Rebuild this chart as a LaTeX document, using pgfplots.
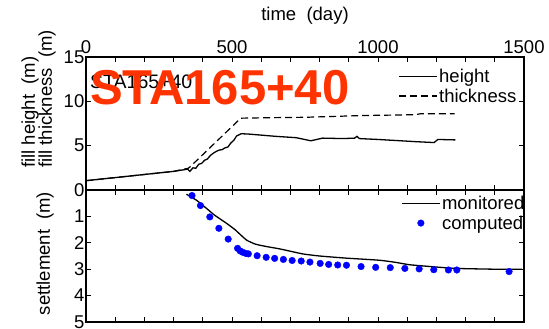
\documentclass[border=0pt]{standalone}
\usepackage{pgfplots}
\pgfplotsset{compat=1.18}
\usepackage{fontspec}
\setmainfont{Liberation Sans}
\definecolor{stared}{RGB}{255,51,0}
\pgfplotsset{
  legend image code/.code={\draw[#1] (0pt,0pt) -- (38pt,0pt);},
  dotlegend/.style={legend image code/.code={\path[draw=none, fill=none] (0pt,0pt) -- (38pt,0pt); \path[##1, draw=none] plot[only marks, mark=*] coordinates {(19pt,0pt)};}},
}
\begin{document}
\begin{tikzpicture}[font=\fontsize{18.5}{21}\selectfont]
\pgfplotsset{
  every axis/.append style={
    scale only axis, width=438pt,
    xmin=0, xmax=1500,
    xtick={0,500,1000,1500}, minor xtick={100,200,300,400,600,700,800,900,1100,1200,1300,1400},
    tick align=inside, tick pos=both,
    major tick length=5pt, minor tick length=5pt,
    every tick/.style={black, line width=0.8pt},
    axis line style={line width=1.2pt},
    /pgf/number format/assume math mode=true,
    /pgf/number format/1000 sep={},
    ticklabel style={font=\fontsize{18.5}{21}\selectfont},
    yticklabel style={inner sep=1.5pt},
    legend cell align=left,
    legend style={draw=none, fill=none, inner sep=0pt, row sep=2pt,
      font=\fontsize{18.5}{21}\selectfont, nodes={inner sep=1.5pt}},
  },
}
\begin{axis}[name=top, height=133pt, ymin=0, ymax=15,
  ytick={0,5,10,15}, yticklabel pos=left,
  xticklabel pos=upper,
  legend style={at={(axis description cs:1,1)}, anchor=north east, xshift=-6pt, yshift=-10pt},
]
\addplot[black, line width=1.3pt] coordinates {
(0,1.05) (100,1.4) (200,1.75) (300,2.1) (348,2.35) (356,2.1) (366,2.5) (376,2.45)
(386,2.9) (396,3.0) (406,3.35) (416,3.5) (426,3.9) (436,4.15) (446,4.35) (456,4.5)
(466,4.55) (476,4.75) (486,4.85) (496,5.3) (506,5.6) (516,6.1) (532,6.35) (560,6.3)
(650,6.05) (720,5.9) (770,5.55) (810,5.85) (880,5.8) (920,5.85) (928,6.05) (936,5.8)
(1000,5.7) (1130,5.45) (1192,5.35) (1205,5.7) (1265,5.65)};
\addlegendentry{height}
\addplot[black, line width=1.2pt, dash pattern=on 7pt off 4pt] coordinates {
(0,1.05) (300,2.1) (350,2.45) (356,2.6) (530,8.1) (620,8.15) (750,8.2) (850,8.3)
(950,8.4) (1050,8.45) (1130,8.5) (1145,8.6) (1262,8.6)};
\addlegendentry{thickness}
\end{axis}
\begin{axis}[name=bot, at={(top.south west)}, anchor=north west,
  height=132pt, ymin=0, ymax=5, y dir=reverse,
  ytick={0,1,2,3,4,5}, yticklabels={,1,2,3,4,5}, yticklabel pos=left,
  xticklabels={},
  legend style={at={(axis description cs:1,1)}, anchor=north east, xshift=2pt, yshift=-4pt},
]
\addplot[black, line width=1.3pt, smooth, tension=0.3] coordinates {
(344,0.16) (380,0.4) (412,0.69) (440,0.95) (481,1.26) (510,1.5) (549,1.89) (580,2.05)
(617,2.14) (663,2.23) (742,2.42) (800,2.5) (890,2.58) (1004,2.66) (1060,2.74)
(1107,2.83) (1180,2.9) (1266,2.97) (1400,3.0) (1493,3.0)};
\addlegendentry{monitored}
\addplot[only marks, mark=*, mark size=3.3pt, color=blue, dotlegend]
coordinates {
(363,0.21) (392,0.59) (424,1.02) (455,1.45) (487,1.86) (519,2.21) (528,2.31) (537,2.36)
(547,2.40) (556,2.42) (586,2.49) (617,2.55) (646,2.59) (676,2.63) (706,2.67) (737,2.69)
(767,2.73) (802,2.78) (831,2.82) (862,2.84) (892,2.85) (942,2.90) (992,2.93) (1042,2.94)
(1092,2.97) (1141,2.99) (1191,3.02) (1241,3.03) (1270,3.03) (1449,3.09)};
\addlegendentry{computed}
\end{axis}
\node at ([yshift=41pt]top.north) {time~~(day)};
\node[rotate=90, anchor=west, inner sep=0pt] at ([xshift=-56pt, yshift=22pt]top.south west) {fill height~~(m)};
\node[rotate=90, anchor=west, inner sep=0pt] at ([xshift=-39pt, yshift=22pt]top.south west) {fill thickness~~(m)};
\node[rotate=90, inner sep=0pt] at ([xshift=-41pt, yshift=-63.5pt]bot.north west) {settlement~~(m)};
\node[anchor=west, inner sep=0pt, font=\fontsize{19.5}{22}\selectfont] at ([xshift=4pt, yshift=108pt]top.south west) {STA165+40};
\node[anchor=west, inner sep=0pt, text=stared, font=\fontsize{49}{52}\bfseries\selectfont] at ([xshift=4pt, yshift=102.5pt]top.south west) {STA165+40};
\pgfresetboundingbox
\path[use as bounding box] ([xshift=-86pt, yshift=-139pt]top.south west) rectangle ++(549pt,329pt);
\end{tikzpicture}
\end{document}
